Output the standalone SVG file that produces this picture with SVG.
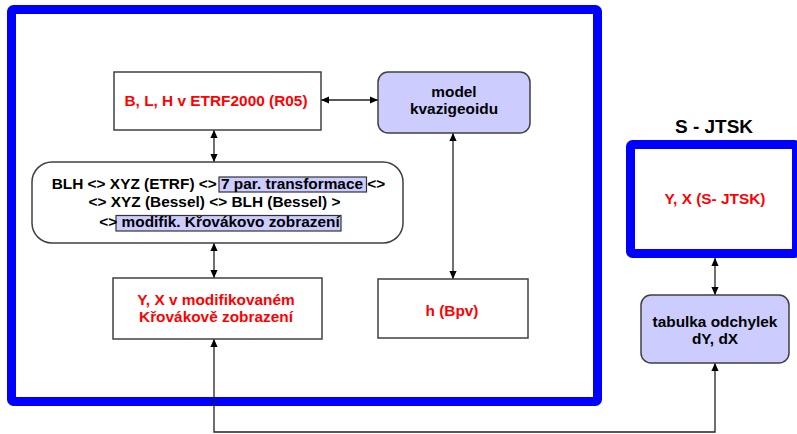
<svg xmlns="http://www.w3.org/2000/svg" width="797" height="434" viewBox="0 0 797 434">
<style>
.bx{fill:#ffffff;stroke:#404040;stroke-width:1.5}
.bl{fill:#ccccff;stroke:#404040;stroke-width:1.5}
.hl{fill:#ccccff;stroke:#333333;stroke-width:1.2}
.fr{fill:none;stroke:#0000ff;stroke-width:9;stroke-linejoin:round}
.t{font-family:"Liberation Sans",Arial,sans-serif;font-weight:bold;font-size:15.4px;text-anchor:middle;fill:#000}
.r{fill:#ff0000}
.c{fill:none;stroke:#222;stroke-width:1.3;marker-start:url(#ah);marker-end:url(#ah)}
</style>
<defs>
<marker id="ah" viewBox="0 0 10 10" refX="10" refY="5" markerWidth="8" markerHeight="8" markerUnits="userSpaceOnUse" orient="auto-start-reverse">
<path d="M0,0.5 L10,5 L0,9.5 z" fill="#000"/>
</marker>
</defs>
<rect width="797" height="434" fill="#ffffff"/>
<rect id="frame-main" class="fr" x="11.5" y="9.5" width="586" height="392" rx="2"/>
<g id="connectors">
<line class="c" x1="321" y1="100" x2="378" y2="100"/>
<line class="c" x1="214" y1="130" x2="214" y2="162"/>
<line class="c" x1="214" y1="243" x2="214" y2="278"/>
<line class="c" x1="453" y1="133" x2="453" y2="279"/>
<line class="c" x1="715" y1="258" x2="715" y2="295"/>
<polyline class="c" points="214,339 214,432 715,432 715,363"/>
</g>
<g id="node-blh-etrf">
<rect class="bx" x="114" y="72" width="207" height="58"/>
<text class="t r" x="216" y="106">B, L, H v ETRF2000 (R05)</text>
</g>
<g id="node-model">
<rect class="bl" x="378" y="72" width="152" height="61" rx="10"/>
<text class="t" x="454" y="97">model</text>
<text class="t" x="454" y="114">kvazigeoidu</text>
</g>
<g id="node-chain">
<rect class="bx" x="32" y="162" width="371" height="81" rx="20"/>
<rect class="hl" x="219" y="177" width="147.5" height="15"/>
<rect class="hl" x="116" y="215.5" width="225" height="15.5"/>
<text class="t" x="218.5" y="189">BLH &lt;&gt; XYZ (ETRF) &lt;&gt; 7 par. transformace &lt;&gt;</text>
<text class="t" x="214.5" y="207">&lt;&gt; XYZ (Bessel) &lt;&gt; BLH (Bessel) &gt;</text>
<text class="t" x="219.5" y="227">&lt;&gt; modifik. Křovákovo zobrazení</text>
</g>
<g id="node-yx-mod">
<rect class="bx" x="113" y="278" width="209" height="61"/>
<text class="t r" x="216" y="305">Y, X v modifikovaném</text>
<text class="t r" x="216" y="322">Křovákově zobrazení</text>
</g>
<g id="node-h">
<rect class="bx" x="378" y="279" width="150" height="59"/>
<text class="t r" x="452" y="316">h (Bpv)</text>
</g>
<g id="node-sjtsk">
<text class="t" x="714" y="133" style="font-size:19px">S - JTSK</text>
<rect class="fr" x="630.5" y="144.5" width="166" height="109" rx="2"/>
<text class="t r" x="715" y="204">Y, X (S- JTSK)</text>
</g>
<g id="node-tabulka">
<rect class="bl" x="641" y="295" width="148" height="68" rx="10"/>
<text class="t" x="715" y="327">tabulka odchylek</text>
<text class="t" x="715" y="344">dY, dX</text>
</g>
</svg>
